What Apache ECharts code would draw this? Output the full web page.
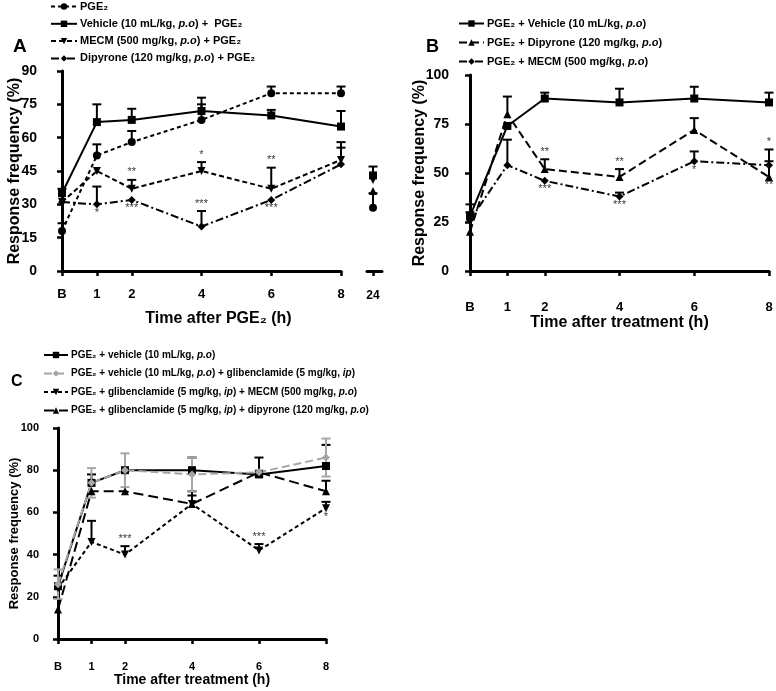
<!DOCTYPE html>
<html><head><meta charset="utf-8">
<script src="https://cdn.jsdelivr.net/npm/echarts@6/dist/echarts.min.js"></script>
<style>html,body{margin:0;padding:0;background:#fff}#c{width:776px;height:691px}</style>
</head><body><div id="c"></div>
<script>
// ---------- data ----------
const xTicks = [0, 1, 2, 4, 6, 8];
const xTickLabels = ['B', '1', '2', '4', '6', '8'];

// Panel A
const aNames = ['PGE₂', 'Vehicle (10 mL/kg, p.o) +  PGE₂', 'MECM (500 mg/kg, p.o) + PGE₂', 'Dipyrone (120 mg/kg, p.o) + PGE₂'];
const aPGE2 = [18, 52, 58, 68, 80, 80];
const aPGE2Err = [21.5, 57, 63, 75, 83, 83];
const aVeh = [35, 67, 68, 72, 70, 65];
const aVehErr = [37, 75, 73, 78, 72.5, 72];
const aMECM = [31, 45, 37, 45, 37, 50];
const aMECMErr = [null, null, 41, 49, 46.5, 58];
const aDip = [31, 30, 32, 20, 32, 48];
const aDipErr = [null, 38, null, 27, null, 55.5];
// 24 h
const a24 = [24];
const a24PGE2 = [28.5], a24PGE2Err = [35];
const a24Veh = [43], a24VehErr = [47];
const a24MECM = [41];
const a24Dip = [36];
const aStarsAbove = [[2, 41, '**'], [4, 49, '*'], [6, 46.5, '**'], [4, 27, '***']];
const aStarsBelow = [[1, 30, '*'], [2, 32, '***'], [6, 32, '***']];

// Panel B
const bNames = ['PGE₂ + Vehicle (10 mL/kg, p.o)', 'PGE₂ + Dipyrone (120 mg/kg, p.o)', 'PGE₂ + MECM (500 mg/kg, p.o)'];
const bVeh = [28, 74, 88, 86, 88, 86];
const bVehErr = [34, null, 91, 93, 94, 91];
const bDip = [20, 80, 52, 48, 72, 48];
const bDipErr = [null, 89, 57, 52, 78, 56];
const bMECM = [26, 54, 46, 38, 56, 54];
const bMECMErr = [30, 67, null, 40, 61, 62];
const bStarsAbove = [[2, 57, '**'], [4, 52, '**'], [8, 62, '*']];
const bStarsBelow = [[2, 46, '***'], [4, 38, '***'], [6, 56, '*'], [8, 48, '**']];

// Panel C
const cNames = ['PGE₂ + vehicle (10 mL/kg, p.o)', 'PGE₂ + vehicle (10 mL/kg, p.o) + glibenclamide (5 mg/kg, ip)', 'PGE₂ + glibenclamide (5 mg/kg, ip) + MECM (500 mg/kg, p.o)', 'PGE₂ + glibenclamide (5 mg/kg, ip) + dipyrone (120 mg/kg, p.o)'];
const cVeh = [25, 74, 80, 80, 78, 82];
const cVehErr = [30, 78, null, 86, 86, 92];
const cGlib = [26, 74, 80, 78, 79, 86];
const cGlibHi = [33, 81, 88, 86, 80, 95];
const cGlibLo = [19, 67, 72, 70, 77, 77];
const cMECM = [24, 46, 40, 64, 42, 62];
const cMECMErr = [null, 56, 44, 68, 45, 65];
const cDip = [14, 70, 70, 64, 79, 70];
const cDipErr = [null, null, null, 70, null, 75];
const cStarsAbove = [[2, 44, '***'], [6, 45, '***']];
const cStarsBelow = [[8, 62, '*']];

// ---------- helpers ----------
const FONT = '"Liberation Sans", Arial, Helvetica, sans-serif';
const BLACK = '#000';
const GREY = '#a6a6a6';
const pair = (xs, ys) => xs.map((x, i) => [x, ys[i]]);
const errData = (xs, ys, hs, ls) => xs.map((x, i) => hs[i] == null ? null : [x, ls ? ls[i] : ys[i], hs[i]]).filter(d => d);

function errSeries(xi, yi, data, color) {
  return {
    type: 'custom', xAxisIndex: xi, yAxisIndex: yi, data: data, silent: true, z: 1,
    renderItem: function (params, api) {
      const x = api.value(0), lo = api.value(1), hi = api.value(2);
      const p0 = api.coord([x, lo]), p1 = api.coord([x, hi]);
      const kids = [
        { type: 'line', shape: { x1: p0[0], y1: p0[1], x2: p1[0], y2: p1[1] }, style: { stroke: color, lineWidth: 2 } },
        { type: 'line', shape: { x1: p1[0] - 4.5, y1: p1[1], x2: p1[0] + 4.5, y2: p1[1] }, style: { stroke: color, lineWidth: 2 } }
      ];
      if (color === GREY) {
        kids.push({ type: 'line', shape: { x1: p0[0] - 4.5, y1: p0[1], x2: p0[0] + 4.5, y2: p0[1] }, style: { stroke: color, lineWidth: 2 } });
      }
      return { type: 'group', children: kids };
    }
  };
}
function lineSeries(name, xi, yi, data, symbol, dash, color, opts) {
  return Object.assign({
    name: name, type: 'line', xAxisIndex: xi, yAxisIndex: yi, data: data,
    symbol: symbol, symbolSize: 8, z: 3,
    itemStyle: { color: color || BLACK },
    lineStyle: { color: color || BLACK, width: 2, type: dash }
  }, opts || {});
}
function starSeries(xi, yi, data, pos) {
  return {
    type: 'scatter', xAxisIndex: xi, yAxisIndex: yi, data: data, symbolSize: 0, silent: true, z: 4,
    label: { show: true, position: pos, distance: pos === 'top' ? 2 : 3, formatter: p => p.value[2],
      color: BLACK, fontSize: 11, fontFamily: FONT }
  };
}
function xAxisDef(gi, offset, name, nameGap, fs, nfs, namePad) {
  return {
    type: 'value', gridIndex: gi, min: 0, max: 8, offset: offset,
    name: name, nameLocation: 'middle', nameGap: nameGap,
    nameTextStyle: { fontFamily: FONT, fontWeight: 'bold', fontSize: nfs, color: BLACK, padding: namePad || 0 },
    axisLine: { show: true, lineStyle: { color: BLACK, width: 3 } },
    axisTick: { show: true, customValues: xTicks, length: 5, lineStyle: { color: BLACK, width: 2.5 } },
    axisLabel: { customValues: xTicks, formatter: v => xTickLabels[xTicks.indexOf(v)], fontFamily: FONT, fontWeight: 'bold', fontSize: fs, color: BLACK, margin: 6 },
    splitLine: { show: false }
  };
}
function yAxisDef(gi, max, interval, offset, nameGap, fs, nfs) {
  return {
    type: 'value', gridIndex: gi, min: 0, max: max, interval: interval, offset: offset,
    name: 'Response frequency (%)', nameLocation: 'middle', nameGap: nameGap, nameMoveOverlap: false,
    nameTextStyle: { fontFamily: FONT, fontWeight: 'bold', fontSize: nfs, color: BLACK },
    axisLine: { show: true, lineStyle: { color: BLACK, width: 3 } },
    axisTick: { show: true, length: 5, lineStyle: { color: BLACK, width: 2.5 } },
    axisLabel: { fontFamily: FONT, fontWeight: 'bold', fontSize: fs, color: BLACK, margin: 6 },
    splitLine: { show: false }
  };
}
function legendDef(names, left, top, fs, gap, iw) {
  return {
    data: names, orient: 'vertical', left: left, top: top, itemGap: gap, itemWidth: iw, itemHeight: 8,
    selectedMode: false, padding: 0,
    formatter: n => n.replace(/(p\.o|\bip\b)/g, '{i|$1}'),
    textStyle: { fontFamily: FONT, fontWeight: 'bold', fontSize: fs, color: BLACK, padding: [0, 0, 0, -2],
      rich: { i: { fontFamily: FONT, fontWeight: 'bold', fontStyle: 'italic', fontSize: fs, color: BLACK } } }
  };
}

const option = {
  animation: false,
  backgroundColor: '#fff',
  title: [
    { text: 'A', left: 8, top: 32, textStyle: { fontFamily: FONT, fontWeight: 'bold', fontSize: 19, color: BLACK } },
    { text: 'B', left: 421, top: 33, textStyle: { fontFamily: FONT, fontWeight: 'bold', fontSize: 18, color: BLACK } },
    { text: 'C', left: 6, top: 369, textStyle: { fontFamily: FONT, fontWeight: 'bold', fontSize: 16, color: BLACK } }
  ],
  legend: [
    legendDef(aNames, 50, 1, 11, 6.3, 26),
    legendDef(bNames, 458, 18, 11, 8, 25),
    legendDef(cNames, 43, 350, 10, 8.5, 24)
  ],
  grid: [
    { left: 62, top: 71, width: 279, height: 200 },
    { left: 367, top: 71, width: 15, height: 200 },
    { left: 470, top: 75, width: 299, height: 196 },
    { left: 58, top: 428, width: 268, height: 211 }
  ],
  xAxis: [
    xAxisDef(0, 11, 'Time after PGE₂ (h)', 29, 13, 16, [0, 0, 0, 34]),
    { type: 'value', gridIndex: 1, min: 23.6, max: 24.6, offset: 14,
      axisLine: { show: true, lineStyle: { color: BLACK, width: 3 } },
      axisTick: { show: true, customValues: a24, length: 5, lineStyle: { color: BLACK, width: 2.5 } },
      axisLabel: { customValues: a24, fontFamily: FONT, fontWeight: 'bold', fontSize: 12, color: BLACK, margin: 5 },
      splitLine: { show: false } },
    xAxisDef(2, 24, 'Time after treatment (h)', 20, 13, 16),
    xAxisDef(3, 16, 'Time after treatment (h)', 18, 11, 14)
  ],
  yAxis: [
    yAxisDef(0, 90, 15, 19, 20, 14, 16),
    { type: 'value', gridIndex: 1, min: 0, max: 90, show: false },
    yAxisDef(2, 100, 25, 15, 27, 14, 16),
    yAxisDef(3, 100, 20, 13, 24, 11, 13)
  ],
  series: [
    // Panel A
    errSeries(0, 0, errData(xTicks, aPGE2, aPGE2Err), BLACK),
    errSeries(0, 0, errData(xTicks, aVeh, aVehErr), BLACK),
    errSeries(0, 0, errData(xTicks, aMECM, aMECMErr), BLACK),
    errSeries(0, 0, errData(xTicks, aDip, aDipErr), BLACK),
    lineSeries(aNames[0], 0, 0, pair(xTicks, aPGE2), 'circle', [4, 3]),
    lineSeries(aNames[1], 0, 0, pair(xTicks, aVeh), 'rect', 'solid'),
    lineSeries(aNames[2], 0, 0, pair(xTicks, aMECM), 'triangle', [5, 3], null, { symbolRotate: 180 }),
    lineSeries(aNames[3], 0, 0, pair(xTicks, aDip), 'diamond', [8, 3, 2, 3]),
    starSeries(0, 0, aStarsAbove, 'top'),
    starSeries(0, 0, aStarsBelow, 'bottom'),
    // 24 h
    errSeries(1, 1, errData(a24, a24PGE2, a24PGE2Err), BLACK),
    errSeries(1, 1, errData(a24, a24Veh, a24VehErr), BLACK),
    lineSeries('a24pge', 1, 1, pair(a24, a24PGE2), 'circle', 'solid'),
    lineSeries('a24dip', 1, 1, pair(a24, a24Dip), 'triangle', 'solid'),
    lineSeries('a24mecm', 1, 1, pair(a24, a24MECM), 'triangle', 'solid', null, { symbolRotate: 180 }),
    lineSeries('a24veh', 1, 1, pair(a24, a24Veh), 'rect', 'solid'),
    // Panel B
    errSeries(2, 2, errData(xTicks, bVeh, bVehErr), BLACK),
    errSeries(2, 2, errData(xTicks, bDip, bDipErr), BLACK),
    errSeries(2, 2, errData(xTicks, bMECM, bMECMErr), BLACK),
    lineSeries(bNames[0], 2, 2, pair(xTicks, bVeh), 'rect', 'solid'),
    lineSeries(bNames[1], 2, 2, pair(xTicks, bDip), 'triangle', [8, 4]),
    lineSeries(bNames[2], 2, 2, pair(xTicks, bMECM), 'diamond', [8, 3, 2, 3]),
    starSeries(2, 2, bStarsAbove, 'top'),
    starSeries(2, 2, bStarsBelow, 'bottom'),
    // Panel C
    errSeries(3, 3, errData(xTicks, cVeh, cVehErr), BLACK),
    errSeries(3, 3, errData(xTicks, cMECM, cMECMErr), BLACK),
    errSeries(3, 3, errData(xTicks, cDip, cDipErr), BLACK),
    lineSeries(cNames[0], 3, 3, pair(xTicks, cVeh), 'rect', 'solid'),
    lineSeries(cNames[2], 3, 3, pair(xTicks, cMECM), 'triangle', [4, 3], null, { symbolRotate: 180 }),
    lineSeries(cNames[3], 3, 3, pair(xTicks, cDip), 'triangle', [10, 5]),
    errSeries(3, 3, errData(xTicks, cGlib, cGlibHi, cGlibLo), GREY),
    lineSeries(cNames[1], 3, 3, pair(xTicks, cGlib), 'diamond', [8, 4], GREY),
    starSeries(3, 3, cStarsAbove, 'top'),
    starSeries(3, 3, cStarsBelow, 'bottom')
  ]
};
const chart = echarts.init(document.getElementById('c'), null, { renderer: 'canvas' });
chart.setOption(option);
</script></body></html>
